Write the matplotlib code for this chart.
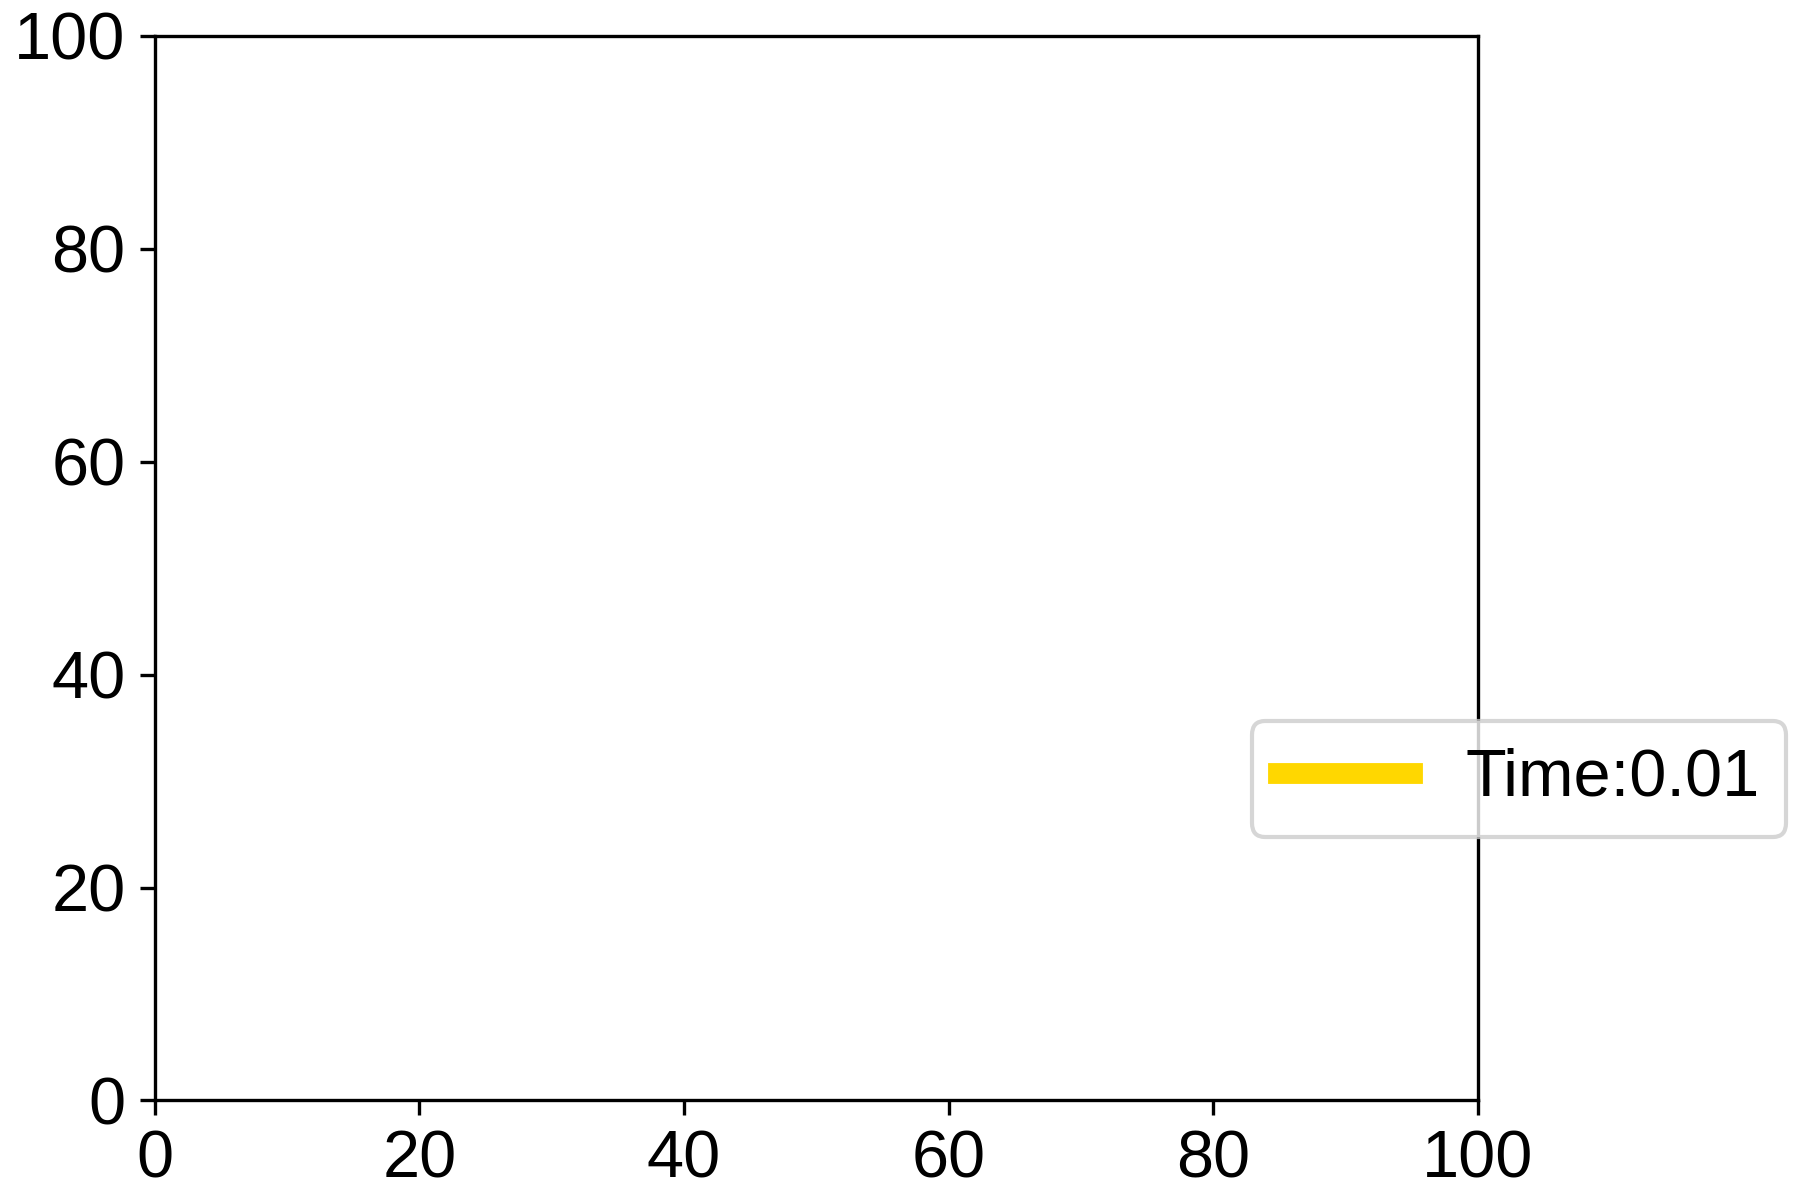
import matplotlib.pyplot as plt

plt.rcParams['font.family'] = ['Liberation Sans', 'DejaVu Sans']
plt.rcParams['font.size'] = 16

# erster Frame: noch keine Punkte
x_vals = []
y_vals = []
label = 'Time:0.01'
ticks = [0, 20, 40, 60, 80, 100]

fig, ax = plt.subplots(figsize=(6, 4), dpi=300)
fig.subplots_adjust(left=0.086, right=0.821, bottom=0.083, top=0.97)

ax.plot(x_vals, y_vals, color='gold', lw=5, label=label)
ax.set_xlim(0, 100)
ax.set_ylim(0, 100)
ax.set_xticks(ticks)
ax.set_yticks(ticks)

ax.legend(loc='center', bbox_to_anchor=(1.031, 0.302))

fig.savefig('out.png', dpi=300)
